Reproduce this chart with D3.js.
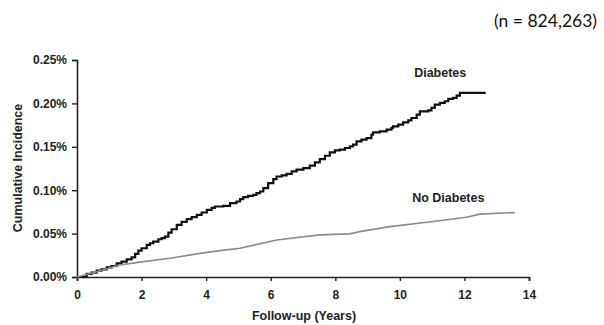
<!DOCTYPE html>
<html>
<head>
<meta charset="utf-8">
<script src="https://cdnjs.cloudflare.com/ajax/libs/d3/7.8.5/d3.min.js"></script>
<style>
  body { margin: 0; background: #fff; }
</style>
</head>
<body>
<div id="chart"></div>
<script>
// ************** data *************************************
var diabetesYears = [0, 0.30, 0.45, 0.61, 0.76, 0.92, 1.07, 1.23, 1.38, 1.54, 1.69, 1.80, 1.90, 2.00, 2.16, 2.26,
  2.36, 2.52, 2.62, 2.72, 2.83, 2.93, 3.09, 3.24, 3.40, 3.55, 3.71, 3.86, 4.02, 4.17, 4.27, 4.53, 4.74,
  4.94, 5.05, 5.15, 5.30, 5.46, 5.56, 5.67, 5.77, 5.92, 6.08, 6.18, 6.34, 6.49, 6.65, 6.80, 7.01, 7.21,
  7.37, 7.52, 7.68, 7.83, 7.99, 8.14, 8.30, 8.45, 8.55, 8.66, 8.81, 8.97, 9.12, 9.17, 9.38, 9.59, 9.74,
  9.79, 9.95, 10.10, 10.26, 10.36, 10.52, 10.62, 10.88, 10.98, 11.08, 11.24, 11.39, 11.50, 11.65, 11.76,
  11.86, 12.66];
var diabetesValues = [0, 0.0035, 0.005, 0.0073, 0.0089, 0.0112, 0.0127, 0.0158, 0.0177, 0.0204, 0.0227, 0.0266, 0.0304, 0.0331, 0.037, 0.0389,
  0.0408, 0.0435, 0.0447, 0.0465, 0.0512, 0.055, 0.060, 0.0635, 0.0666, 0.0689, 0.0716, 0.0743, 0.0774, 0.0797, 0.0812, 0.082, 0.0851,
  0.087, 0.0897, 0.092, 0.0935, 0.0947, 0.0966, 0.0985, 0.1024, 0.1082, 0.1128, 0.1158, 0.117, 0.1189, 0.1216, 0.1236, 0.1255, 0.1282,
  0.132, 0.1359, 0.1397, 0.1435, 0.1458, 0.1467, 0.1486, 0.1505, 0.1524, 0.1563, 0.1582, 0.1601, 0.164, 0.1667, 0.1678, 0.1697, 0.1717,
  0.1736, 0.1755, 0.1782, 0.1805, 0.1832, 0.187, 0.1909, 0.192, 0.1948, 0.1986, 0.2006, 0.2025, 0.2052, 0.2063, 0.209,
  0.2121, 0.2121];

var noDiabetesYears = [0, 0.61, 1.33, 2.05, 2.88, 3.71, 4.43, 5.05, 6.18, 7.52, 8.45, 8.76, 9.69, 11.03, 12.06, 12.48, 13.56];
var noDiabetesValues = [0, 0.0061, 0.0139, 0.0177, 0.0216, 0.0266, 0.0304, 0.0331, 0.0427, 0.0485, 0.0497, 0.0523, 0.058, 0.0639, 0.0689, 0.0724, 0.0742];

var xTicks = [0, 2, 4, 6, 8, 10, 12, 14];
var yTicks = [0, 0.05, 0.10, 0.15, 0.20, 0.25];

var seriesNames = ["Diabetes", "No Diabetes"];
var seriesColors = ["#111111", "#8c8c8c"];
var sampleNote = "(n = 824,263)";

// ************** layout *****************
var widthTotal = 604, heightTotal = 325;
var margin = {top: 60, right: 75, bottom: 48, left: 77},
    width = widthTotal - margin.left - margin.right,
    height = heightTotal - margin.top - margin.bottom;

var labelFont = "'Liberation Sans', Arial, Helvetica, sans-serif";

var svg = d3.select("#chart").append("svg")
  .attr("width", widthTotal)
  .attr("height", heightTotal);

var g = svg.append("g")
  .attr("transform", "translate(" + margin.left + "," + margin.top + ")");

var x = d3.scaleLinear().domain([0, 14]).range([0, width]);
var y = d3.scaleLinear().domain([0, 0.25]).range([height, 0]);

//x axis
var xAxis = g.append("g")
  .attr("transform", "translate(0," + height + ")")
  .call(d3.axisBottom(x).tickValues(xTicks).tickSize(4).tickPadding(9).tickFormat(d3.format("d")));

//y axis
var yAxis = g.append("g")
  .call(d3.axisLeft(y).tickValues(yTicks).tickSize(5).tickPadding(5)
    .tickFormat(function(d) { return d3.format(".2f")(d) + "%"; }));

[xAxis, yAxis].forEach(function(a) {
  a.select(".domain").attr("stroke", "#222").attr("stroke-width", 1.6);
  a.selectAll(".tick line").attr("stroke", "#222").attr("stroke-width", 1.4);
  a.selectAll(".tick text")
    .attr("font-family", labelFont)
    .attr("font-size", "12px")
    .attr("font-weight", "bold")
    .attr("fill", "#222");
});

//axis titles
g.append("text")
  .attr("x", 227)
  .attr("y", height + 43)
  .attr("text-anchor", "middle")
  .attr("font-family", labelFont)
  .attr("font-size", "12.5px")
  .attr("font-weight", "bold")
  .attr("fill", "#222")
  .text("Follow-up (Years)");

g.append("text")
  .attr("transform", "translate(" + (-55) + "," + (168 - margin.top) + ") rotate(-90)")
  .attr("text-anchor", "middle")
  .attr("font-family", labelFont)
  .attr("font-size", "12.5px")
  .attr("font-weight", "bold")
  .attr("fill", "#222")
  .text("Cumulative Incidence");

//lines: diabetes drawn as a KM step curve, no diabetes steps are too small to see
var stepLine = d3.line()
  .x(function(d) { return x(d[0]); })
  .y(function(d) { return y(d[1]); })
  .curve(d3.curveStepAfter);

var plainLine = d3.line()
  .x(function(d) { return x(d[0]); })
  .y(function(d) { return y(d[1]); });

var series = [
  d3.zip(diabetesYears, diabetesValues),
  d3.zip(noDiabetesYears, noDiabetesValues)
];

g.selectAll("path.series")
  .data(series)
  .enter()
  .append("path")
  .attr("class", "series")
  .attr("fill", "none")
  .attr("stroke", function(d, i) { return seriesColors[i]; })
  .attr("stroke-width", function(d, i) { return i == 0 ? 2.2 : 1.6; })
  .attr("d", function(d, i) { return i == 0 ? stepLine(d) : plainLine(d); });

//series labels
var labelAt = [[11.25, 0.236], [11.5, 0.0915]];
g.selectAll("text.series-label")
  .data(seriesNames)
  .enter()
  .append("text")
  .attr("class", "series-label")
  .attr("x", function(d, i) { return x(labelAt[i][0]); })
  .attr("y", function(d, i) { return y(labelAt[i][1]); })
  .attr("text-anchor", "middle")
  .attr("dy", "0.35em")
  .attr("font-family", labelFont)
  .attr("font-size", "12.5px")
  .attr("font-weight", "bold")
  .attr("fill", "#222")
  .text(function(d) { return d; });

//sample size note
svg.append("text")
  .attr("x", 597)
  .attr("y", 27)
  .attr("text-anchor", "end")
  .attr("font-family", "Lato, 'Noto Sans', sans-serif")
  .attr("font-size", "17.5px")
  .attr("fill", "#111")
  .text(sampleNote);
</script>
</body>
</html>
